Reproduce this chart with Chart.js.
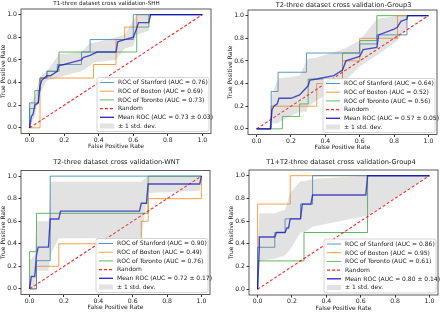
<!DOCTYPE html>
<html>
<head>
<meta charset="utf-8">
<script src="https://cdn.jsdelivr.net/npm/chart.js@4.4.0/dist/chart.umd.min.js"></script>
<style>
  html, body { margin: 0; padding: 0; background: #fff; }
  #wrap { position: relative; width: 440px; height: 312px; overflow: hidden; }
  canvas { position: absolute; }
</style>
</head>
<body>
<div id="wrap">
  <canvas id="c1" width="220" height="156" style="left:0;top:0"></canvas>
  <canvas id="c2" width="220" height="156" style="left:220px;top:0"></canvas>
  <canvas id="c3" width="220" height="156" style="left:0;top:156px"></canvas>
  <canvas id="c4" width="220" height="156" style="left:220px;top:156px"></canvas>
</div>
<script>
// tick labels / shared
const tickValues = [0, 0.2, 0.4, 0.6, 0.8, 1.0];
const chanceX = [0, 1];
const chanceY = [0, 1];
const sourceNames = ['Stanford', 'Boston', 'Toronto'];

// T1 - SHH
const shhTitle = 'T1-three dataset cross validation-SHH';
const shhStanfordX = [0, 0, 0.05, 0.05, 0.06, 0.06, 0.1, 0.1, 0.16, 0.16, 0.3, 0.3, 0.35, 0.35, 0.6, 0.6, 1];
const shhStanfordY = [0, 0.22, 0.22, 0.33, 0.33, 0.44, 0.44, 0.5, 0.5, 0.56, 0.56, 0.67, 0.67, 0.78, 0.78, 1, 1];
const shhBostonX = [0, 0.06, 0.06, 0.37, 0.37, 0.5, 0.5, 0.55, 0.55, 0.62, 0.62, 1];
const shhBostonY = [0, 0, 0.44, 0.44, 0.56, 0.56, 0.78, 0.78, 0.89, 0.89, 1, 1];
const shhTorontoX = [0, 0, 0.03, 0.03, 0.06, 0.06, 0.1, 0.1, 0.17, 0.17, 0.62, 0.62, 0.69, 0.69, 1];
const shhTorontoY = [0, 0.17, 0.17, 0.33, 0.33, 0.44, 0.44, 0.5, 0.5, 0.67, 0.67, 0.89, 0.89, 1, 1];
const shhMeanX = [0, 0.01, 0.02, 0.03, 0.05, 0.06, 0.07, 0.1, 0.12, 0.16, 0.17, 0.2, 0.25, 0.3, 0.31, 0.35, 0.39, 0.5, 0.51, 0.55, 0.6, 0.62, 0.63, 0.69, 0.7, 1];
const shhMeanY = [0, 0.1, 0.12, 0.2, 0.22, 0.37, 0.42, 0.46, 0.46, 0.5, 0.55, 0.56, 0.58, 0.6, 0.62, 0.64, 0.67, 0.67, 0.76, 0.78, 0.8, 0.88, 0.93, 0.93, 1, 1];
const shhBandX = [0, 0.03, 0.06, 0.1, 0.17, 0.3, 0.35, 0.37, 0.5, 0.55, 0.6, 0.62, 0.69, 0.7, 1];
const shhUpper = [0.2, 0.28, 0.45, 0.5, 0.65, 0.67, 0.75, 0.75, 0.8, 0.82, 0.95, 1, 1, 1, 1];
const shhLower = [0, 0.1, 0.3, 0.42, 0.45, 0.5, 0.55, 0.58, 0.6, 0.7, 0.72, 0.82, 0.86, 1, 1];
const shhAuc = [0.76, 0.69, 0.73];
const shhMeanAuc = [0.73, 0.03];

// T2 - Group3
const g3Title = 'T2-three dataset cross validation-Group3';
const g3StanfordX = [0, 0.085, 0.085, 0.125, 0.125, 0.29, 0.29, 0.6, 0.6, 0.7, 0.7, 0.875, 0.875, 1];
const g3StanfordY = [0, 0, 0.33, 0.33, 0.5, 0.5, 0.67, 0.67, 0.75, 0.75, 0.83, 0.83, 1, 1];
const g3BostonX = [0, 0.085, 0.085, 0.35, 0.35, 0.5, 0.5, 0.6, 0.6, 0.82, 0.82, 1];
const g3BostonY = [0, 0, 0.2, 0.2, 0.4, 0.4, 0.6, 0.6, 0.8, 0.8, 1, 1];
const g3TorontoX = [0, 0.15, 0.15, 0.25, 0.25, 0.3, 0.3, 0.5, 0.5, 0.6, 0.6, 0.7, 0.7, 1];
const g3TorontoY = [0, 0, 0.11, 0.11, 0.22, 0.22, 0.44, 0.44, 0.67, 0.67, 0.78, 0.78, 1, 1];
const g3MeanX = [0, 0.08, 0.09, 0.1, 0.12, 0.13, 0.2, 0.25, 0.3, 0.31, 0.35, 0.45, 0.5, 0.52, 0.6, 0.62, 0.7, 0.71, 0.8, 0.82, 0.84, 0.875, 0.88, 1];
const g3MeanY = [0, 0, 0.17, 0.2, 0.22, 0.27, 0.27, 0.3, 0.38, 0.43, 0.44, 0.47, 0.52, 0.6, 0.64, 0.7, 0.72, 0.83, 0.88, 0.9, 0.95, 0.97, 1, 1];
const g3BandX = [0, 0.085, 0.09, 0.125, 0.15, 0.25, 0.29, 0.3, 0.35, 0.5, 0.6, 0.7, 0.82, 0.875, 0.88, 1];
const g3Upper = [0, 0, 0.3, 0.45, 0.45, 0.47, 0.6, 0.62, 0.63, 0.7, 0.78, 0.97, 1, 1, 1, 1];
const g3Lower = [0, 0, 0.05, 0.05, 0.08, 0.15, 0.15, 0.2, 0.25, 0.4, 0.55, 0.65, 0.78, 0.9, 1, 1];
const g3Auc = [0.64, 0.52, 0.56];
const g3MeanAuc = [0.57, 0.05];

// T2 - WNT
const wntTitle = 'T2-three dataset cross validation-WNT';
const wntStanfordX = [0, 0.04, 0.04, 0.12, 0.12, 1];
const wntStanfordY = [0, 0, 0.25, 0.25, 1, 1];
const wntBostonX = [0, 0.04, 0.04, 0.17, 0.17, 0.65, 0.65, 0.69, 0.69, 1, 1];
const wntBostonY = [0, 0, 0.2, 0.2, 0.4, 0.4, 0.6, 0.6, 0.8, 0.8, 1];
const wntTorontoX = [0, 0, 0.04, 0.04, 0.69, 0.69, 1];
const wntTorontoY = [0, 0.33, 0.33, 0.67, 0.67, 1, 1];
const wntMeanX = [0, 0.01, 0.03, 0.04, 0.05, 0.11, 0.12, 0.17, 0.18, 0.64, 0.65, 0.68, 0.69, 0.99, 1];
const wntMeanY = [0, 0.11, 0.11, 0.3, 0.37, 0.37, 0.62, 0.62, 0.69, 0.69, 0.76, 0.76, 0.93, 0.93, 1];
const wntBandX = [0, 0.03, 0.04, 0.11, 0.12, 0.17, 0.65, 0.69, 0.99, 1];
const wntUpper = [0.25, 0.3, 0.6, 0.6, 0.95, 0.95, 0.95, 1, 1, 1];
const wntLower = [0, 0, 0.16, 0.16, 0.3, 0.45, 0.45, 0.85, 0.87, 1];
const wntAuc = [0.90, 0.49, 0.76];
const wntMeanAuc = [0.72, 0.17];

// T1+T2 - Group4
const g4Title = 'T1+T2-three dataset cross validation-Group4';
const g4StanfordX = [0, 0, 0.1, 0.1, 0.16, 0.16, 0.25, 0.25, 0.32, 0.32, 1];
const g4StanfordY = [0, 0.37, 0.37, 0.5, 0.5, 0.62, 0.62, 0.75, 0.75, 1, 1];
const g4BostonX = [0, 0, 0.19, 0.19, 1];
const g4BostonY = [0.12, 0.75, 0.75, 1, 1];
const g4TorontoX = [0, 0, 0.27, 0.27, 0.64, 0.64, 1];
const g4TorontoY = [0, 0.25, 0.25, 0.5, 0.5, 1, 1];
const g4MeanX = [0, 0.01, 0.01, 0.1, 0.11, 0.16, 0.17, 0.18, 0.19, 0.25, 0.26, 0.31, 0.32, 0.63, 0.64, 1];
const g4MeanY = [0, 0.37, 0.46, 0.46, 0.5, 0.5, 0.54, 0.54, 0.62, 0.62, 0.75, 0.75, 0.83, 0.83, 1, 1];
const g4BandX = [0, 0.01, 0.1, 0.16, 0.19, 0.25, 0.27, 0.32, 0.64, 1];
const g4Upper = [0.3, 0.67, 0.67, 0.7, 0.85, 0.95, 0.95, 0.97, 1, 1];
const g4Lower = [0, 0.25, 0.27, 0.3, 0.35, 0.5, 0.5, 0.55, 0.65, 1];
const g4Auc = [0.86, 0.95, 0.61];
const g4MeanAuc = [0.80, 0.14];

const FONT = 'DejaVu Sans';
const TXT = '#1a1a1a';
const colors = ['rgba(31,119,180,0.75)', 'rgba(255,127,14,0.75)', 'rgba(44,160,44,0.75)'];
const meanColor = 'rgba(0,0,200,0.8)';
const chanceColor = 'rgba(255,0,0,0.85)';
const bandColor = 'rgba(140,140,140,0.25)';

function pts(xs, ys) {
  return xs.map((x, i) => ({ x: x, y: ys[i] }));
}

// frame, title and in-axes legend (matplotlib style)
const framePlugin = {
  id: 'frame',
  afterDraw(chart, args, o) {
    const ctx = chart.ctx;
    const a = chart.chartArea;
    ctx.save();
    ctx.strokeStyle = '#333';
    ctx.lineWidth = 0.8;
    ctx.strokeRect(a.left, a.top, a.right - a.left, a.bottom - a.top);

    ctx.fillStyle = TXT;
    ctx.font = o.titleSize + 'px "' + FONT + '"';
    ctx.textAlign = 'center';
    ctx.textBaseline = 'middle';
    ctx.fillText(o.title, o.titleX, o.titleY);

    // legend box
    const w = 112, h = 54;
    const bx = a.right - w - 2, by = a.bottom - h - 2;
    ctx.fillStyle = 'rgba(255,255,255,0.85)';
    ctx.strokeStyle = '#ccc';
    ctx.lineWidth = 0.8;
    ctx.beginPath();
    ctx.roundRect(bx, by, w, h, 2);
    ctx.fill();
    ctx.stroke();
    ctx.font = '6px "' + FONT + '"';
    ctx.textAlign = 'left';
    o.items.forEach((it, i) => {
      const y = by + 5 + i * 8.7;
      if (it.box) {
        ctx.fillStyle = bandColor;
        ctx.fillRect(bx + 3, y - 2.5, 14, 5);
      } else {
        ctx.strokeStyle = it.color;
        ctx.lineWidth = it.width;
        ctx.setLineDash(it.dash || []);
        ctx.beginPath();
        ctx.moveTo(bx + 3, y);
        ctx.lineTo(bx + 17, y);
        ctx.stroke();
        ctx.setLineDash([]);
      }
      ctx.fillStyle = TXT;
      ctx.fillText(it.label, bx + 21, y + 0.3);
    });
    ctx.restore();
  }
};

function axis(label, isX, size) {
  return {
    type: 'linear',
    min: -0.05,
    max: 1.05,
    afterBuildTicks: s => { s.ticks = tickValues.map(v => ({ value: v })); },
    afterFit: s => { if (isX) s.height = size; else s.width = size; },
    ticks: {
      callback: v => v.toFixed(1),
      font: { family: FONT, size: 6.2 },
      color: TXT,
      padding: isX ? 0.5 : 1.5,
      autoSkip: false,
      maxRotation: 0
    },
    grid: { display: true, drawOnChartArea: false, drawTicks: true, tickLength: 2.5, color: '#333' },
    border: { display: false },
    title: { display: true, text: label, font: { family: FONT, size: 6 }, color: TXT, padding: 0 }
  };
}

function makePanel(id, p) {
  const datasets = [
    { data: pts(p.bandX, p.upper), borderWidth: 0, pointRadius: 0, fill: '+1', backgroundColor: bandColor, order: 0 },
    { data: pts(p.bandX, p.lower), borderWidth: 0, pointRadius: 0, fill: false, order: 0 },
    { data: pts(p.meanX, p.meanY), borderColor: meanColor, borderWidth: 1.4, pointRadius: 0, order: 1 },
    { data: pts(chanceX, chanceY), borderColor: chanceColor, borderWidth: 1.1, borderDash: [3, 2], pointRadius: 0, order: 2 }
  ];
  p.curves.forEach((c, i) => {
    datasets.push({ data: pts(c[0], c[1]), borderColor: colors[i], borderWidth: 1, pointRadius: 0, order: 3 + i });
  });
  const items = sourceNames.map((n, i) => ({
    label: 'ROC of ' + n + ' (AUC = ' + p.auc[i].toFixed(2) + ')', color: colors[i], width: 1
  }));
  items.push({ label: 'Random', color: chanceColor, width: 1.1, dash: [3, 2] });
  items.push({ label: 'Mean ROC (AUC = ' + p.meanAuc[0].toFixed(2) + ' \u00b1 ' + p.meanAuc[1].toFixed(2) + ')', color: meanColor, width: 1.4 });
  items.push({ label: '\u00b1 1 std. dev.', box: true });

  new Chart(document.getElementById(id), {
    type: 'line',
    data: { datasets: datasets },
    options: {
      responsive: false,
      animation: false,
      events: [],
      layout: { padding: p.pad },
      elements: { line: { tension: 0 } },
      scales: {
        x: axis('False Positive Rate', true, 17),
        y: axis('True Positive Rate', false, 21)
      },
      plugins: {
        legend: { display: false },
        tooltip: { enabled: false },
        frame: { title: p.title, titleSize: p.titleSize, titleX: p.titleX, titleY: p.titleY, items: items }
      }
    },
    plugins: [framePlugin]
  });
}

makePanel('c1', {
  title: shhTitle, titleSize: 5.6, titleX: 106.5, titleY: 4,
  pad: { left: 0, top: 9, right: 9, bottom: 5.5 },
  curves: [[shhStanfordX, shhStanfordY], [shhBostonX, shhBostonY], [shhTorontoX, shhTorontoY]],
  meanX: shhMeanX, meanY: shhMeanY, bandX: shhBandX, upper: shhUpper, lower: shhLower,
  auc: shhAuc, meanAuc: shhMeanAuc
});
makePanel('c2', {
  title: g3Title, titleSize: 6.6, titleX: 123.5, titleY: 5,
  pad: { left: 7, top: 10, right: 3, bottom: 4.5 },
  curves: [[g3StanfordX, g3StanfordY], [g3BostonX, g3BostonY], [g3TorontoX, g3TorontoY]],
  meanX: g3MeanX, meanY: g3MeanY, bandX: g3BandX, upper: g3Upper, lower: g3Lower,
  auc: g3Auc, meanAuc: g3MeanAuc
});
makePanel('c3', {
  title: wntTitle, titleSize: 6.6, titleX: 116.5, titleY: 6.7,
  pad: { left: 0, top: 14.5, right: 10, bottom: 0.5 },
  curves: [[wntStanfordX, wntStanfordY], [wntBostonX, wntBostonY], [wntTorontoX, wntTorontoY]],
  meanX: wntMeanX, meanY: wntMeanY, bandX: wntBandX, upper: wntUpper, lower: wntLower,
  auc: wntAuc, meanAuc: wntMeanAuc
});
makePanel('c4', {
  title: g4Title, titleSize: 6.6, titleX: 121, titleY: 6.7,
  pad: { left: 8, top: 14, right: 2, bottom: 0 },
  curves: [[g4StanfordX, g4StanfordY], [g4BostonX, g4BostonY], [g4TorontoX, g4TorontoY]],
  meanX: g4MeanX, meanY: g4MeanY, bandX: g4BandX, upper: g4Upper, lower: g4Lower,
  auc: g4Auc, meanAuc: g4MeanAuc
});
</script>
</body>
</html>
